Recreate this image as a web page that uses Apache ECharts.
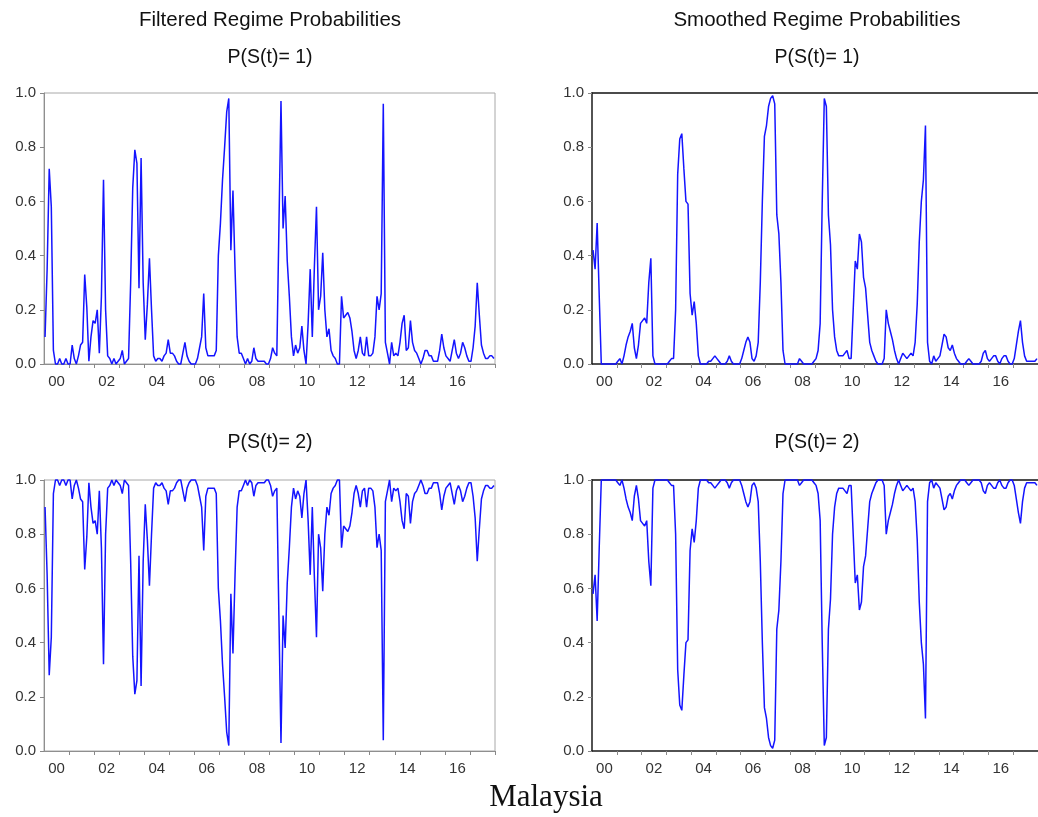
<!DOCTYPE html>
<html><head><meta charset="utf-8">
<script src="https://cdn.jsdelivr.net/npm/echarts@6/dist/echarts.min.js"></script>
<style>html,body{margin:0;padding:0;background:#fff}#c{width:1038px;height:817px}</style>
</head><body><div id="c"></div>
<script>
// ---- data (monthly, Jan 2000 - Dec 2017) ----
const years = [2000,2001,2002,2003,2004,2005,2006,2007,2008,2009,2010,2011,2012,2013,2014,2015,2016,2017];
const tickLabels = ['00','02','04','06','08','10','12','14','16'];
const yTickLabels = ['0.0','0.2','0.4','0.6','0.8','1.0'];

const filteredP1 = [
0.10,0.35,0.72,0.58,0.05,0.00,0.00,0.02,0.00,0.00,0.02,0.00,
0.00,0.07,0.02,0.00,0.03,0.07,0.08,0.33,0.21,0.01,0.10,0.16,
0.15,0.20,0.04,0.25,0.68,0.20,0.03,0.02,0.00,0.02,0.00,0.01,
0.02,0.05,0.00,0.01,0.02,0.30,0.65,0.79,0.74,0.28,0.76,0.30,
0.09,0.22,0.39,0.20,0.03,0.01,0.02,0.02,0.01,0.03,0.04,0.09,
0.04,0.04,0.03,0.01,0.00,0.00,0.04,0.08,0.03,0.01,0.00,0.00,
0.00,0.02,0.06,0.10,0.26,0.06,0.03,0.03,0.03,0.03,0.05,0.40,
0.52,0.68,0.80,0.93,0.98,0.42,0.64,0.35,0.10,0.04,0.04,0.02,
0.00,0.02,0.00,0.01,0.06,0.02,0.01,0.01,0.01,0.01,0.00,0.00,
0.02,0.06,0.04,0.03,0.50,0.97,0.50,0.62,0.38,0.25,0.10,0.03,
0.07,0.04,0.06,0.14,0.05,0.00,0.15,0.35,0.10,0.36,0.58,0.20,
0.25,0.41,0.20,0.10,0.13,0.05,0.03,0.02,0.00,0.00,0.25,0.17,
0.18,0.19,0.17,0.12,0.05,0.02,0.05,0.10,0.04,0.03,0.10,0.03,
0.03,0.04,0.10,0.25,0.20,0.26,0.96,0.08,0.04,0.00,0.08,0.03,
0.04,0.03,0.08,0.15,0.18,0.05,0.06,0.16,0.08,0.05,0.04,0.02,
0.00,0.02,0.05,0.05,0.03,0.03,0.01,0.01,0.01,0.05,0.11,0.06,
0.03,0.02,0.01,0.05,0.09,0.04,0.02,0.04,0.08,0.06,0.03,0.01,
0.01,0.06,0.14,0.30,0.18,0.07,0.04,0.02,0.02,0.03,0.03,0.02
];
const filteredP2 = [
0.90,0.65,0.28,0.42,0.95,1.00,1.00,0.98,1.00,1.00,0.98,1.00,
1.00,0.93,0.98,1.00,0.97,0.93,0.92,0.67,0.79,0.99,0.90,0.84,
0.85,0.80,0.96,0.75,0.32,0.80,0.97,0.98,1.00,0.98,1.00,0.99,
0.98,0.95,1.00,0.99,0.98,0.70,0.35,0.21,0.26,0.72,0.24,0.70,
0.91,0.78,0.61,0.80,0.97,0.99,0.98,0.98,0.99,0.97,0.96,0.91,
0.96,0.96,0.97,0.99,1.00,1.00,0.96,0.92,0.97,0.99,1.00,1.00,
1.00,0.98,0.94,0.90,0.74,0.94,0.97,0.97,0.97,0.97,0.95,0.60,
0.48,0.32,0.20,0.07,0.02,0.58,0.36,0.65,0.90,0.96,0.96,0.98,
1.00,0.98,1.00,0.99,0.94,0.98,0.99,0.99,0.99,0.99,1.00,1.00,
0.98,0.94,0.96,0.97,0.50,0.03,0.50,0.38,0.62,0.75,0.90,0.97,
0.93,0.96,0.94,0.86,0.95,1.00,0.85,0.65,0.90,0.64,0.42,0.80,
0.75,0.59,0.80,0.90,0.87,0.95,0.97,0.98,1.00,1.00,0.75,0.83,
0.82,0.81,0.83,0.88,0.95,0.98,0.95,0.90,0.96,0.97,0.90,0.97,
0.97,0.96,0.90,0.75,0.80,0.74,0.04,0.92,0.96,1.00,0.92,0.97,
0.96,0.97,0.92,0.85,0.82,0.95,0.94,0.84,0.92,0.95,0.96,0.98,
1.00,0.98,0.95,0.95,0.97,0.97,0.99,0.99,0.99,0.95,0.89,0.94,
0.97,0.98,0.99,0.95,0.91,0.96,0.98,0.96,0.92,0.94,0.97,0.99,
0.99,0.94,0.86,0.70,0.82,0.93,0.96,0.98,0.98,0.97,0.97,0.98
];
const smoothedP1 = [
0.42,0.35,0.52,0.25,0.00,0.00,0.00,0.00,0.00,0.00,0.00,0.00,
0.01,0.02,0.00,0.03,0.07,0.10,0.12,0.15,0.06,0.02,0.07,0.15,
0.16,0.17,0.15,0.30,0.39,0.03,0.00,0.00,0.00,0.00,0.00,0.00,
0.00,0.01,0.02,0.02,0.20,0.70,0.83,0.85,0.72,0.60,0.59,0.26,
0.18,0.23,0.15,0.03,0.00,0.00,0.00,0.00,0.01,0.01,0.02,0.03,
0.02,0.01,0.00,0.00,0.00,0.01,0.03,0.01,0.00,0.00,0.00,0.00,
0.02,0.05,0.08,0.10,0.08,0.02,0.01,0.03,0.08,0.30,0.60,0.84,
0.88,0.95,0.98,0.99,0.96,0.55,0.48,0.30,0.05,0.00,0.00,0.00,
0.00,0.00,0.00,0.00,0.02,0.01,0.00,0.00,0.00,0.00,0.00,0.01,
0.02,0.05,0.15,0.60,0.98,0.95,0.55,0.44,0.20,0.10,0.05,0.03,
0.03,0.03,0.04,0.05,0.02,0.02,0.20,0.38,0.35,0.48,0.45,0.32,
0.28,0.18,0.08,0.05,0.03,0.01,0.00,0.00,0.00,0.02,0.20,0.15,
0.12,0.09,0.05,0.02,0.00,0.02,0.04,0.03,0.02,0.03,0.04,0.03,
0.08,0.22,0.45,0.60,0.68,0.88,0.08,0.01,0.00,0.03,0.01,0.02,
0.03,0.07,0.11,0.10,0.06,0.05,0.07,0.04,0.02,0.01,0.00,0.00,
0.00,0.01,0.02,0.01,0.00,0.00,0.00,0.00,0.01,0.04,0.05,0.02,
0.01,0.02,0.03,0.03,0.01,0.00,0.02,0.03,0.03,0.01,0.00,0.00,
0.02,0.07,0.12,0.16,0.08,0.03,0.01,0.01,0.01,0.01,0.01,0.02
];
const smoothedP2 = [
0.58,0.65,0.48,0.75,1.00,1.00,1.00,1.00,1.00,1.00,1.00,1.00,
0.99,0.98,1.00,0.97,0.93,0.90,0.88,0.85,0.94,0.98,0.93,0.85,
0.84,0.83,0.85,0.70,0.61,0.97,1.00,1.00,1.00,1.00,1.00,1.00,
1.00,0.99,0.98,0.98,0.80,0.30,0.17,0.15,0.28,0.40,0.41,0.74,
0.82,0.77,0.85,0.97,1.00,1.00,1.00,1.00,0.99,0.99,0.98,0.97,
0.98,0.99,1.00,1.00,1.00,0.99,0.97,0.99,1.00,1.00,1.00,1.00,
0.98,0.95,0.92,0.90,0.92,0.98,0.99,0.97,0.92,0.70,0.40,0.16,
0.12,0.05,0.02,0.01,0.04,0.45,0.52,0.70,0.95,1.00,1.00,1.00,
1.00,1.00,1.00,1.00,0.98,0.99,1.00,1.00,1.00,1.00,1.00,0.99,
0.98,0.95,0.85,0.40,0.02,0.05,0.45,0.56,0.80,0.90,0.95,0.97,
0.97,0.97,0.96,0.95,0.98,0.98,0.80,0.62,0.65,0.52,0.55,0.68,
0.72,0.82,0.92,0.95,0.97,0.99,1.00,1.00,1.00,0.98,0.80,0.85,
0.88,0.91,0.95,0.98,1.00,0.98,0.96,0.97,0.98,0.97,0.96,0.97,
0.92,0.78,0.55,0.40,0.32,0.12,0.92,0.99,1.00,0.97,0.99,0.98,
0.97,0.93,0.89,0.90,0.94,0.95,0.93,0.96,0.98,0.99,1.00,1.00,
1.00,0.99,0.98,0.99,1.00,1.00,1.00,1.00,0.99,0.96,0.95,0.98,
0.99,0.98,0.97,0.97,0.99,1.00,0.98,0.97,0.97,0.99,1.00,1.00,
0.98,0.93,0.88,0.84,0.92,0.97,0.99,0.99,0.99,0.99,0.99,0.98
];

// ---- build ----
const monthPos = [];
years.forEach(y => { for (let m = 0; m < 12; m++) monthPos.push(y + (m + 0.5) / 12); });
const pair = arr => arr.map((v, i) => [monthPos[i], v]);
const xMin = years[0], xMax = years[years.length - 1] + 1;
const tickVals = []; for (let y = xMin + 1; y <= xMax; y++) tickVals.push(y);
const labelVals = tickLabels.map((_, k) => xMin + 0.5 + 2 * k);

const chart = echarts.init(document.getElementById('c'), null, {renderer: 'canvas'});
const FONT = 'Liberation Sans, Arial, sans-serif';

const panels = [
  {left: 44, top: 93, width: 451, dark: false, data: filteredP1},
  {left: 592, top: 93, width: 449, dark: true, data: smoothedP1},
  {left: 44, top: 480, width: 451, dark: false, data: filteredP2},
  {left: 592, top: 480, width: 449, dark: true, data: smoothedP2}
];

const grid = [], xAxis = [], yAxis = [], series = [];
panels.forEach((p, i) => {
  const axisCol = p.dark ? '#1a1a1a' : '#8f8f8f';
  const lw = p.dark ? 1.5 : 1;
  grid.push({left: p.left, top: p.top, width: p.width, height: 271, show: !p.dark,
    borderColor: '#a8a8a8', borderWidth: 1, backgroundColor: 'transparent'});
  xAxis.push({type: 'value', gridIndex: i, min: xMin, max: xMax, position: 'bottom',
    axisLine: {show: true, onZero: false, lineStyle: {color: axisCol, width: lw}},
    axisTick: {show: true, customValues: tickVals, length: 4, lineStyle: {color: '#888'}},
    axisLabel: {show: true, customValues: labelVals, margin: 10, color: '#333', fontFamily: FONT, fontSize: 15,
      formatter: v => tickLabels[Math.round((v - xMin - 0.5) / 2)]},
    splitLine: {show: false}});
  yAxis.push({type: 'value', gridIndex: i, min: 0, max: 1, interval: 0.2,
    axisLine: {show: true, lineStyle: {color: axisCol, width: lw}},
    axisTick: {show: true, length: 4, lineStyle: {color: '#888'}},
    axisLabel: {margin: 8, color: '#333', fontFamily: FONT, fontSize: 15,
      formatter: v => yTickLabels[Math.round(v * 5)]},
    splitLine: {show: false}});
  series.push({type: 'line', xAxisIndex: i, yAxisIndex: i, data: pair(p.data), showSymbol: false,
    lineStyle: {color: '#1414ff', width: 1.5}, animation: false, clip: false});
});
// top frame lines for the smoothed panels
[1, 3].forEach(i => {
  xAxis.push({type: 'value', gridIndex: i, min: xMin, max: xMax, position: 'top',
    axisLine: {show: true, onZero: false, lineStyle: {color: '#111', width: 1.5}},
    axisTick: {show: false}, axisLabel: {show: false}, splitLine: {show: false}});
});

const txt = (text, x, y, size, family) => ({type: 'text', x: x, y: y,
  style: {text: text, fill: '#111', font: size + 'px ' + family, textAlign: 'center', textVerticalAlign: 'middle'}});

chart.setOption({
  animation: false,
  grid, xAxis, yAxis, series,
  graphic: [
    txt('Filtered Regime Probabilities', 270, 20, 20.5, FONT),
    txt('Smoothed Regime Probabilities', 817, 20, 20.5, FONT),
    txt('P(S(t)= 1)', 270, 58, 19.5, FONT),
    txt('P(S(t)= 1)', 817, 58, 19.5, FONT),
    txt('P(S(t)= 2)', 270, 443, 19.5, FONT),
    txt('P(S(t)= 2)', 817, 443, 19.5, FONT),
    txt('Malaysia', 546, 798, 31, 'Liberation Serif, Times New Roman, serif')
  ]
});
</script></body></html>
